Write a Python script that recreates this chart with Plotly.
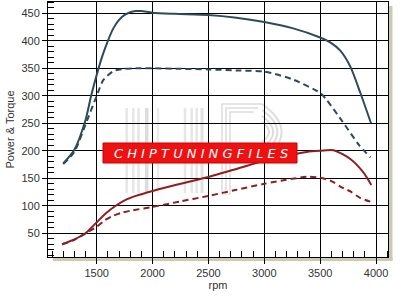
import plotly.graph_objects as go

# ---- data ----
rpm_tq_tuned = [1200, 1300, 1400, 1450, 1500, 1550, 1600, 1650, 1700, 1750, 1800, 1850, 1900, 2000, 2200, 2500, 2750, 3000, 3250, 3500, 3590, 3680, 3770, 3860, 3955]
tq_tuned = [177, 202, 256, 300, 338, 372, 400, 423, 438, 447, 452, 454, 454, 451, 449, 447, 442, 434, 423, 406, 397, 382, 353, 305, 250]

rpm_tq_stock = [1200, 1300, 1400, 1500, 1560, 1650, 1750, 1850, 2000, 2250, 2500, 2750, 3000, 3250, 3500, 3560, 3700, 3850, 3950]
tq_stock = [176, 198, 248, 300, 329, 345, 349, 350, 350, 349, 348, 346, 344, 330, 305, 292, 253, 210, 188]

rpm_pw_tuned = [1190, 1300, 1400, 1490, 1580, 1670, 1750, 1850, 2000, 2250, 2470, 2750, 3000, 3250, 3380, 3500, 3620, 3770, 3885, 3957]
pw_tuned = [30, 39, 50, 68, 86, 100, 110, 118, 127, 140, 151, 167, 182, 193, 198, 200, 201, 185, 161, 138]

rpm_pw_stock = [1190, 1300, 1400, 1500, 1575, 1650, 1720, 1800, 2000, 2250, 2500, 2750, 3000, 3250, 3400, 3500, 3600, 3680, 3770, 3860, 3957]
pw_stock = [30, 38, 50, 62, 74, 82, 87, 91, 98, 108, 118, 129, 140, 149, 153, 151, 145, 135, 126, 114, 107]

x_ticks = [1500, 2000, 2500, 3000, 3500, 4000]
y_ticks = [50, 100, 150, 200, 250, 300, 350, 400, 450]

BLUE = "#2e4b5b"
RED = "#8c1f23"

fig = go.Figure()
fig.add_trace(go.Scatter(x=rpm_tq_stock, y=tq_stock, mode="lines",
                         line=dict(color=BLUE, width=2, dash="6px,4px", shape="spline", smoothing=0.7)))
fig.add_trace(go.Scatter(x=rpm_tq_tuned, y=tq_tuned, mode="lines",
                         line=dict(color=BLUE, width=2, shape="spline", smoothing=0.7)))
fig.add_trace(go.Scatter(x=rpm_pw_stock, y=pw_stock, mode="lines",
                         line=dict(color=RED, width=2, dash="6px,4px", shape="spline", smoothing=0.7)))
fig.add_trace(go.Scatter(x=rpm_pw_tuned, y=pw_tuned, mode="lines",
                         line=dict(color=RED, width=2, shape="spline", smoothing=0.7)))

# plot area in pixels
L, R, T, B = 48, 388, 2, 257
W, H = R - L, B - T

def px(x):
    return (x - L) / W

def py(y):
    return (B - y) / H

shapes = []
# drop shadow of the plot frame
SH = "#cfc9b4"
shapes.append(dict(type="rect", xref="paper", yref="paper", x0=px(R + 0.5), x1=px(R + 4.5),
                   y0=py(B + 4), y1=py(T + 4), fillcolor=SH, line=dict(width=0), layer="below"))
shapes.append(dict(type="rect", xref="paper", yref="paper", x0=px(L + 5), x1=px(R + 4.5),
                   y0=py(B + 4), y1=py(B + 0.5), fillcolor=SH, line=dict(width=0), layer="below"))

# watermark: faded region + grey stripes
shapes.append(dict(type="rect", xref="paper", yref="paper", x0=px(112), x1=px(300),
                   y0=py(196), y1=py(100), fillcolor="white", opacity=0.7,
                   line=dict(width=0), layer="between"))
for xb, wb, op in [(126.7, 2.5, 0.25), (133.3, 2.5, 0.25), (138.5, 2.5, 0.25), (146.7, 3.5, 0.35),
                   (185, 2.5, 0.25), (191.7, 2.5, 0.25), (196.7, 2.5, 0.25), (202, 3, 0.3),
                   (158, 2.5, 0.2)]:
    shapes.append(dict(type="rect", xref="paper", yref="paper", x0=px(xb - wb / 2), x1=px(xb + wb / 2),
                       y0=py(193), y1=py(108), fillcolor="#9a9a9a", opacity=op,
                       line=dict(width=0), layer="between"))
# "F" nested outlines
for k, inset in enumerate([0, 4, 8]):
    shapes.append(dict(type="path", xref="paper", yref="paper",
                       path=f"M {px(222 + inset)} {py(195)} L {px(222 + inset)} {py(104 + inset)} L {px(262 - inset)} {py(104 + inset)}",
                       line=dict(color="#a0a0a0", width=1.5), opacity=0.35, layer="between"))
# arcs
for r_ in [10, 16, 22, 28]:
    cx, cy = 262, 132
    shapes.append(dict(type="path", xref="paper", yref="paper",
                       path=f"M {px(cx)} {py(cy - r_)} Q {px(cx + r_ * 1.4)} {py(cy)} {px(cx)} {py(cy + r_)}",
                       line=dict(color="#a0a0a0", width=2), opacity=0.35, layer="between"))

# red logo box
shapes.append(dict(type="rect", xref="paper", yref="paper", x0=px(103), x1=px(297),
                   y0=py(163), y1=py(143), fillcolor="#ee1111", line=dict(color="#d00000", width=1),
                   layer="above"))

annotations = [dict(xref="paper", yref="paper", x=px(201), y=py(153), xanchor="center", yanchor="middle",
                    text="C H I P T U N I N G F I L E S", showarrow=False,
                    font=dict(family="DejaVu Sans", size=13, color="white", style="italic", weight="normal"))]

axis_font = dict(family="Liberation Sans, Arial", size=11, color="#333333")

fig.update_layout(
    width=403, height=297,
    margin=dict(l=L, r=403 - R, t=T, b=297 - B),
    paper_bgcolor="white", plot_bgcolor="white",
    showlegend=False,
    shapes=shapes, annotations=annotations,
    xaxis=dict(range=[1064, 4107], tickvals=x_ticks, ticktext=[str(v) for v in x_ticks],
               showgrid=True, gridcolor="black", gridwidth=1, zeroline=False,
               showline=True, linecolor="black", linewidth=1, mirror=True,
               ticks="outside", ticklen=6, tickcolor="black",
               minor=dict(dtick=100, tick0=0, ticks="inside", ticklen=6, tickcolor="black", showgrid=False),
               tickfont=axis_font, title=dict(text="rpm", font=axis_font, standoff=3)),
    yaxis=dict(range=[6.9, 470.5], tickvals=y_ticks, ticktext=[str(v) for v in y_ticks],
               showgrid=True, gridcolor="black", gridwidth=1, zeroline=False,
               showline=True, linecolor="black", linewidth=1, mirror=True,
               ticks="outside", ticklen=5, tickcolor="black",
               minor=dict(dtick=10, tick0=0, ticks="inside", ticklen=6, tickcolor="black", showgrid=False),
               tickfont=axis_font, title=dict(text="Power & Torque", font=axis_font, standoff=4)),
)

fig.write_html("out.html")
